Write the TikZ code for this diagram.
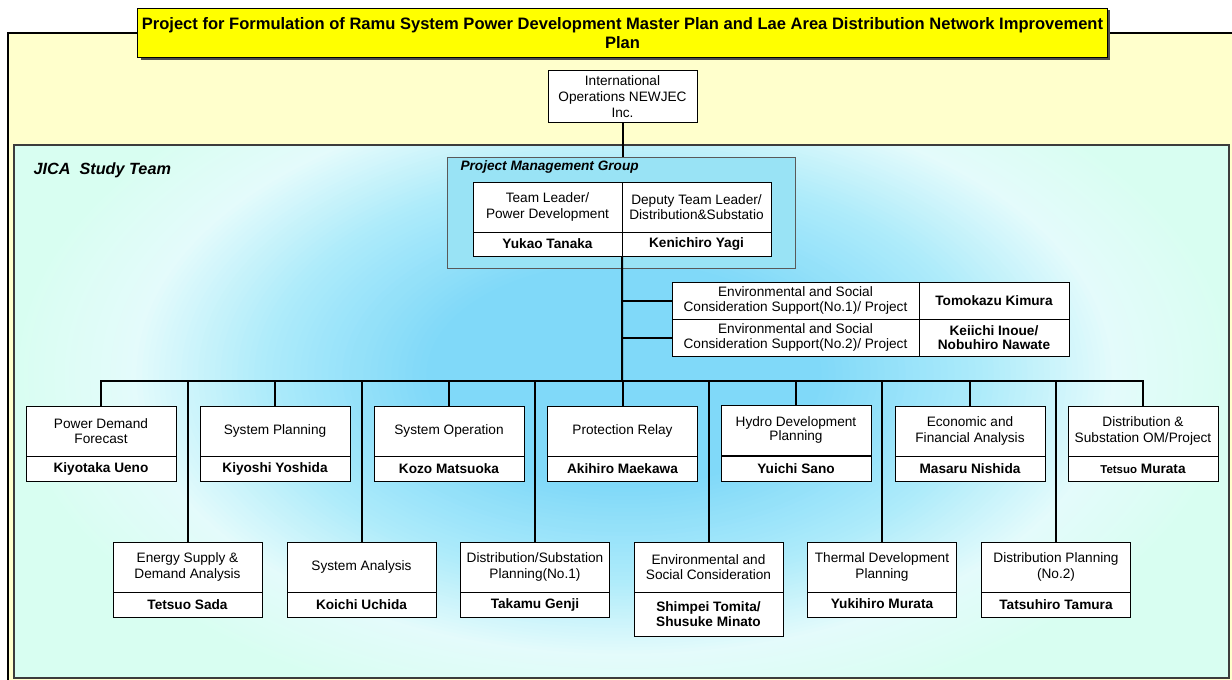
\documentclass[tikz,border=0pt]{standalone}
\usepackage{fontspec}
\setmainfont{Liberation Sans}

\definecolor{frameyellow}{HTML}{FFFFCC}
\definecolor{titleyellow}{HTML}{FFFF00}
\definecolor{pmgblue}{HTML}{99E3F5}
\definecolor{skyA}{HTML}{7ED8F9}
\definecolor{skyB}{HTML}{ADEBFA}
\definecolor{skyC}{HTML}{E4FBFB}
\definecolor{mint}{HTML}{D8FEF1}
\definecolor{edgegray}{HTML}{3C3C3C}

\tikzset{
  txt/.style={font=\fontsize{13.7}{15.5}\selectfont},
  role/.style={txt, draw=black, fill=white, line width=0.8bp, minimum width=150bp,
    minimum height=50bp, inner sep=1bp, outer sep=0pt, align=center},
  who/.style={role, minimum height=25bp, font=\fontsize{13.7}{14.5}\selectfont\bfseries},
  link/.style={line width=2bp, black},
}

% one band of the glow: #1 start fraction, #2 end fraction, #3 outer colour, #4 inner colour
\newcommand\glowband[4]{%
  \foreach \k in {0,...,23}{%
    \pgfmathsetmacro\rr{#1-(#1-#2)*\k/24}%
    \pgfmathsetmacro\mixp{100*\k/24}%
    \fill[#4!\mixp!#3] (624,375) ellipse [x radius={560*\rr}, y radius={320*\rr}];
  }}

\begin{document}
\begin{tikzpicture}[x=1bp, y=-1bp]
\useasboundingbox (0,0) rectangle (1232,680);

% outer yellow frame
\draw[line width=2bp, fill=frameyellow] (8,33) rectangle (1250,700);

% title banner with its shadow
\fill[black!70] (140.5,10.5) rectangle (1109.5,60.5);
\node[draw=black, fill=titleyellow, line width=1bp, minimum width=969bp, minimum height=49bp,
      inner sep=0pt, align=center, font=\fontsize{16.6}{19}\selectfont\bfseries]
  (title) at (622.5,33.5)
  {Project for Formulation of Ramu System Power Development Master Plan and Lae Area Distribution Network Improvement\\Plan};

% study team panel with its blue glow
\begin{scope}
  \clip (14,145) rectangle (1229,678);
  \fill[mint] (14,145) rectangle (1229,678);
  \glowband{1.1}{0.88}{mint}{skyC}
  \glowband{0.88}{0.64}{skyC}{skyB}
  \glowband{0.64}{0.34}{skyB}{skyA}
\end{scope}
\draw[edgegray, line width=1.4bp] (14,145) rectangle (1229,678);
\node[anchor=west, font=\fontsize{16.3}{18}\selectfont\bfseries\itshape] (jica) at (30,170) {JICA\ \ Study Team};

% parent organisation
\node[role, minimum width=149bp, minimum height=52bp, font=\fontsize{13.7}{15.8}\selectfont]
  (intl) at (622.5,96.5) {International\\Operations NEWJEC\\Inc.};

% project management group
\node[draw=gray!70!black, fill=pmgblue, line width=0.8bp, minimum width=348bp, minimum height=111bp,
      inner sep=0pt, outer sep=0pt] (pmg) at (621,212.5) {};
\node[anchor=west, font=\fontsize{13.7}{15}\selectfont\bfseries\itshape] (pmglabel) at (457,167) {Project Management Group};
\node[role, minimum width=149bp] (tlr) at (547.5,207) {Team Leader/\\Power Development};
\node[who, minimum width=149bp, minimum height=24bp] (tln) at (547.5,244) {Yukao Tanaka};
\node[role, minimum width=149bp] (dlr) at (696.5,207) {Deputy Team Leader/\\Distribution\&Substatio};
\node[who, minimum width=149bp, minimum height=24bp] (dln) at (696.5,244) {Kenichiro Yagi};

% environmental support members
\node[role, minimum width=247bp, minimum height=37bp] (e1r) at (795.5,300.5)
  {Environmental and Social\\Consideration Support(No.1)/ Project};
\node[who, minimum width=150bp, minimum height=37bp] (e1n) at (994,300.5) {Tomokazu Kimura};
\node[role, minimum width=247bp, minimum height=37bp] (e2r) at (795.5,337.5)
  {Environmental and Social\\Consideration Support(No.2)/ Project};
\node[who, minimum width=150bp, minimum height=37bp] (e2n) at (994,337.5) {Keiichi Inoue/\\Nobuhiro Nawate};

% first row of experts
\node[role] (r1a) at (101,431) {Power Demand\\Forecast};
\node[who]  (n1a) at (101,468.5) {Kiyotaka Ueno};
\node[role] (r1b) at (275,431) {System Planning};
\node[who]  (n1b) at (275,468.5) {Kiyoshi Yoshida};
\node[role] (r1c) at (449,431) {System Operation};
\node[who]  (n1c) at (449,468.5) {Kozo Matsuoka};
\node[role] (r1d) at (622.5,431) {Protection Relay};
\node[who]  (n1d) at (622.5,468.5) {Akihiro Maekawa};
\node[role, font=\fontsize{13.7}{12.5}\selectfont] (r1e) at (796,430) {Hydro Development\\Planning};
\node[who]  (n1e) at (796,468.5) {Yuichi Sano};
\node[role] (r1f) at (970,431) {Economic and\\Financial Analysis};
\node[who]  (n1f) at (970,468.5) {Masaru Nishida};
\node[role] (r1g) at (1143,431) {Distribution \&\\Substation OM/Project};
\node[who]  (n1g) at (1143,468.5) {{\fontsize{11.5}{12}\selectfont Tetsuo} Murata};

% second row of experts
\node[role, minimum width=149bp] (r2a) at (187.5,567) {Energy Supply \&\\Demand Analysis};
\node[who,  minimum width=149bp] (n2a) at (187.5,604.5) {Tetsuo Sada};
\node[role, minimum width=149bp] (r2b) at (361.5,567) {System Analysis};
\node[who,  minimum width=149bp] (n2b) at (361.5,604.5) {Koichi Uchida};
\node[role, minimum width=149bp] (r2c) at (535,567) {Distribution/Substation\\Planning(No.1)};
\node[who,  minimum width=149bp] (n2c) at (535,604.5) {\raisebox{1.5bp}{Takamu Genji}};
\node[role, minimum width=149bp] (r2d) at (708.5,567) {Environmental and\\Social Consideration};
\node[who,  minimum width=149bp, minimum height=44bp] (n2d) at (708.5,614) {Shimpei Tomita/\\Shusuke Minato};
\node[role, minimum width=149bp] (r2e) at (882,567) {Thermal Development\\Planning};
\node[who,  minimum width=149bp] (n2e) at (882,604.5) {\raisebox{1.5bp}{Yukihiro Murata}};
\node[role, minimum width=149bp] (r2f) at (1056,567) {Distribution Planning\\(No.2)};
\node[who,  minimum width=149bp] (n2f) at (1056,604.5) {Tatsuhiro Tamura};

% reporting lines
\coordinate (hub) at (622,381);
\draw[link] (intl.south) -- (intl.south |- pmg.north);
\draw[link] (tln.south east) -- (hub);
\draw[link] (e1r.west -| hub) -- (e1r.west);
\draw[link] (e2r.west -| hub) -- (e2r.west);
\draw[link] (r1a.north) |- (hub) -| (r1g.north);
\foreach \n in {r1b,r1c,r1d,r1e,r1f,r2a,r2b,r2c,r2d,r2e,r2f}
  \draw[link] (\n.north) -- (\n.north |- hub);
\end{tikzpicture}
\end{document}
